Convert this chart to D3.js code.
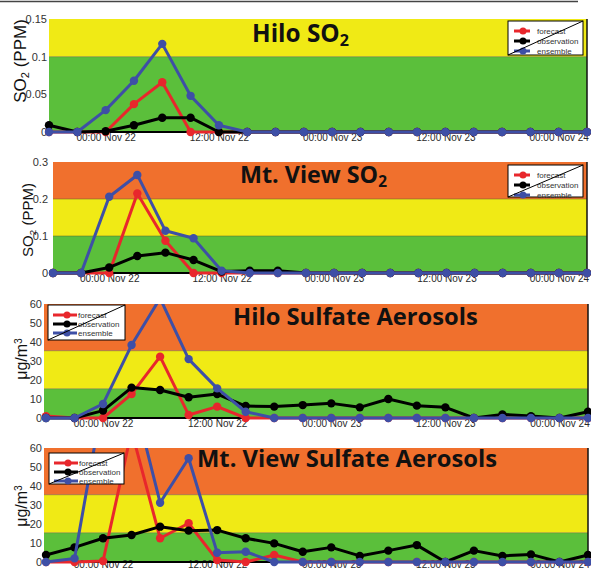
<!DOCTYPE html>
<html>
<head>
<meta charset="utf-8">
<style>
  body { margin: 0; background: #fff; }
  svg { display: block; }
</style>
</head>
<body>
<svg width="591" height="570"></svg>
<script src="https://cdn.jsdelivr.net/npm/d3@7"></script>
<script>

	// Time steps (3 hourly) and the ones that get a label.
	var times = ["18:00 Nov 21", "21:00 Nov 21", "00:00 Nov 22", "03:00 Nov 22", "06:00 Nov 22",
		"09:00 Nov 22", "12:00 Nov 22", "15:00 Nov 22", "18:00 Nov 22", "21:00 Nov 22",
		"00:00 Nov 23", "03:00 Nov 23", "06:00 Nov 23", "09:00 Nov 23", "12:00 Nov 23",
		"15:00 Nov 23", "18:00 Nov 23", "21:00 Nov 23", "00:00 Nov 24", "03:00 Nov 24"];
	var tickTimes = ["00:00 Nov 22", "12:00 Nov 22", "00:00 Nov 23", "12:00 Nov 23", "00:00 Nov 24"];

	var seriesNames = ["forecast", "observation", "ensemble"];
	var seriesColors = ["#e8272c", "#000000", "#3e4fa6"];
	var bandColors = ["#5bbf3b", "#f0ea15", "#f0702d"];

	// Hilo SO2 (ppm)
	var hiloSO2Forecast = [0, 0, 0, 0.037, 0.066, 0, 0, 0, 0, 0, 0, 0, 0, 0, 0, 0, 0, 0, 0, 0];
	var hiloSO2Obs      = [0.009, 0, 0.001, 0.009, 0.019, 0.019, 0, 0, 0, 0, 0, 0, 0, 0, 0, 0, 0, 0, 0, 0];
	var hiloSO2Ens      = [0, 0, 0.029, 0.068, 0.117, 0.048, 0.009, 0, 0, 0, 0, 0, 0, 0, 0, 0, 0, 0, 0, 0];

	// Mt. View SO2 (ppm)
	var mtvSO2Forecast = [0, 0, 0, 0.215, 0.087, 0, 0, 0, 0, 0, 0, 0, 0, 0, 0, 0, 0, 0, 0, 0];
	var mtvSO2Obs      = [0, 0, 0.015, 0.046, 0.055, 0.035, 0.004, 0.006, 0.006, 0, 0, 0, 0, 0, 0, 0, 0, 0, 0, 0];
	var mtvSO2Ens      = [0, 0, 0.206, 0.265, 0.114, 0.094, 0.006, 0, 0, 0, 0, 0, 0, 0, 0, 0, 0, 0, 0, 0];

	// Hilo sulfate aerosols (ug/m3)
	var hiloSulfForecast = [1, 0, 0, 12.6, 32.3, 1.6, 6, 0, 0, 0, 0, 0, 0, 0, 0, 0, 0, 0, 0, 0];
	var hiloSulfObs      = [0, 0, 3.9, 16, 14.7, 10.9, 12.6, 6.3, 6, 6.8, 7.7, 5.6, 10, 6.5, 5.6, 0, 1.9, 1, 0, 3.3];
	var hiloSulfEns      = [0, 0, 7.4, 38.4, 63, 31, 15.6, 3.3, 0, 0, 0, 0, 0, 0, 0, 0, 0, 0, 0, 0];

	// Mt. View sulfate aerosols (ug/m3)
	var mtvSulfForecast = [0, 0, 0.5, 69, 12.5, 20.4, 1, 0, 3.7, 0, 0, 0, 0, 0, 0, 0, 0, 0, 0, 0];
	var mtvSulfObs      = [3.7, 7.7, 12.5, 14.2, 18.6, 16.5, 16.8, 12.5, 9.8, 5.4, 7.7, 3.2, 6, 8.9, 0, 6, 3.2, 4, 0, 3.7];
	var mtvSulfEns      = [0, 1.9, 86, 91, 31.2, 54.6, 4.9, 5.4, 0, 0, 0, 0, 0, 0, 0, 0, 0, 0, 0, 0];

	// Axis ticks and air quality levels.
	var hiloSO2Ticks = [0, 0.05, 0.1, 0.15];
	var mtvSO2Ticks = [0, 0.1, 0.2, 0.3];
	var sulfTicks = [0, 10, 20, 30, 40, 50, 60];
	var hiloSO2Levels = [0, 0.1, 0.15];
	var mtvSO2Levels = [0, 0.1, 0.2, 0.3];
	var sulfLevels = [0, 15.4, 35.4, 60];

	var svg = d3.select("svg");

	// Thin rule across the top of the page.
	svg.append("line")
		.attr("x1", 0).attr("x2", 578).attr("y1", 1.5).attr("y2", 1.5)
		.style("stroke", "#444").style("stroke-width", 1.6);

	var rightLegend = {lx0: 6, lx1: 22, dot: 15, tx: 29, rows: [10, 20, 30]};
	var leftLegend = {lx0: 5, lx1: 29, dot: 19, tx: 30, rows: [10, 19, 28]};

	var panels = [
		{title: ["Hilo SO", "2"], titleX: 252, titleY: 42, titleW: 97, titleSize: 22,
			ylab: "so2", ylabX: 26, ylabY: 61, ylabSize: 17,
			data: [hiloSO2Forecast, hiloSO2Obs, hiloSO2Ens], ticks: hiloSO2Ticks, levels: hiloSO2Levels,
			left: 49, bgLeft: 49, right: 587, top: 19, bottom: 132, tickPad: 2, xPad: 1.4,
			legend: {x: 508, y: 21, w: 75, h: 34, layout: rightLegend}},
		{title: ["Mt. View SO", "2"], titleX: 240, titleY: 183, titleW: 147, titleSize: 20,
			ylab: "so2", ylabX: 33, ylabY: 220, ylabSize: 15,
			data: [mtvSO2Forecast, mtvSO2Obs, mtvSO2Ens], ticks: mtvSO2Ticks, levels: mtvSO2Levels,
			left: 53, bgLeft: 53, right: 587, top: 162, bottom: 273, tickPad: 5, xPad: 1.4,
			legend: {x: 508, y: 165, w: 75, h: 32, layout: rightLegend}},
		{title: ["Hilo Sulfate Aerosols"], titleX: 233, titleY: 325, titleW: 245, titleSize: 22,
			ylab: "ug", ylabX: 27, ylabY: 359, ylabSize: 16,
			data: [hiloSulfForecast, hiloSulfObs, hiloSulfEns], ticks: sulfTicks, levels: sulfLevels,
			left: 46, bgLeft: 44, right: 588, top: 304, bottom: 418, tickPad: 4, xPad: 1.4,
			legend: {x: 48, y: 305, w: 77, h: 35, layout: leftLegend}},
		{title: ["Mt. View Sulfate Aerosols"], titleX: 197, titleY: 467, titleW: 300, titleSize: 20,
			ylab: "ug", ylabX: 27, ylabY: 506, ylabSize: 16,
			data: [mtvSulfForecast, mtvSulfObs, mtvSulfEns], ticks: sulfTicks, levels: sulfLevels,
			left: 46, bgLeft: 44, right: 588, top: 448, bottom: 562, tickPad: 4, xPad: -1.3,
			legend: {x: 49, y: 453, w: 75, h: 31, layout: leftLegend}}
	];

	panels.forEach(drawPanel);

	function drawPanel(p, k) {
		var g = svg.append("g");
		var x = d3.scalePoint().domain(times).range([p.left, p.right]);
		var y = d3.scaleLinear().domain([0, p.ticks[p.ticks.length - 1]]).range([p.bottom, p.top]);

		// coloured air quality bands
		g.selectAll(".band")
			.data(d3.pairs(p.levels))
			.enter().append("rect")
				.attr("x", p.bgLeft)
				.attr("width", p.right - p.bgLeft)
				.attr("y", function(d) { return y(d[1]); })
				.attr("height", function(d) { return y(d[0]) - y(d[1]); })
				.style("fill", function(d, i) { return bandColors[i]; });

		g.selectAll(".edge")
			.data(p.levels.slice(1, -1))
			.enter().append("line")
				.attr("x1", p.bgLeft).attr("x2", p.right)
				.attr("y1", function(d) { return y(d); })
				.attr("y2", function(d) { return y(d); })
				.style("stroke", "#5a5a30").style("stroke-opacity", 0.6).style("stroke-width", 0.8);

		// time labels sit just under the axis line
		var xAxis = g.append("g")
			.attr("transform", "translate(0," + p.bottom + ")")
			.call(d3.axisBottom(x).tickValues(tickTimes).tickSize(0).tickPadding(p.xPad));
		xAxis.select(".domain").remove();
		xAxis.selectAll("text")
			.style("font-family", "'Liberation Sans', Arial, sans-serif")
			.style("font-size", "10px")
			.style("fill", "#2a2a2a");

		var yAxis = g.append("g")
			.attr("transform", "translate(" + p.left + ",0)")
			.call(d3.axisLeft(y).tickValues(p.ticks).tickSize(0).tickPadding(p.tickPad)
				.tickFormat(function(d) { return String(d); }));
		yAxis.select(".domain").remove();
		yAxis.selectAll("text")
			.style("font-family", "'Liberation Sans', Arial, sans-serif")
			.style("font-size", "11px")
			.style("fill", "#333");

		// axis line and right border
		g.append("line")
			.attr("x1", p.bgLeft).attr("x2", p.right + 1)
			.attr("y1", p.bottom).attr("y2", p.bottom)
			.style("stroke", "#000").style("stroke-width", 2);
		g.append("line")
			.attr("x1", p.right).attr("x2", p.right)
			.attr("y1", p.top).attr("y2", p.bottom)
			.style("stroke", "#111").style("stroke-width", 1.5);

		// title
		var title = g.append("text")
			.attr("x", p.titleX).attr("y", p.titleY)
			.style("font-family", "'Open Sans', sans-serif")
			.style("font-weight", 700)
			.style("font-size", p.titleSize + "px")
			.style("fill", "#111");
		title.append("tspan").text(p.title[0]);
		if (p.title[1]) {
			title.append("tspan").attr("dy", "0.25em").style("font-size", "0.66em").text(p.title[1]);
		}
		var w = title.node().getComputedTextLength();
		title.style("font-size", (p.titleSize * p.titleW / w) + "px");

		// y label
		var ylab = g.append("text")
			.attr("transform", "translate(" + p.ylabX + "," + p.ylabY + ") rotate(-90)")
			.attr("text-anchor", "middle")
			.style("font-family", "'Liberation Sans', Arial, sans-serif")
			.style("font-size", p.ylabSize + "px")
			.style("fill", "#111");
		if (p.ylab == "so2") {
			ylab.append("tspan").text("SO");
			ylab.append("tspan").attr("dy", "0.3em").style("font-size", "0.65em").text("2");
			ylab.append("tspan").attr("dy", "-0.2em").text(" (PPM)");
		} else {
			ylab.append("tspan").text("\u03bcg/m");
			ylab.append("tspan").attr("dy", "-0.45em").style("font-size", "0.65em").text("3");
		}

		// series, clipped at the top of the plot
		var clipId = "clip" + k;
		svg.append("clipPath").attr("id", clipId)
			.append("rect")
				.attr("x", p.bgLeft - 8).attr("y", p.top)
				.attr("width", p.right - p.bgLeft + 16).attr("height", p.bottom - p.top + 8);

		var line = d3.line()
			.x(function(d, i) { return x(times[i]); })
			.y(function(d) { return y(d); });

		var series = g.append("g").attr("clip-path", "url(#" + clipId + ")")
			.selectAll(".series")
			.data(p.data)
			.enter().append("g");

		series.append("path")
			.attr("d", line)
			.style("fill", "none")
			.style("stroke", function(d, i) { return seriesColors[i]; })
			.style("stroke-width", 3)
			.style("stroke-linejoin", "round");

		series.each(function(d, i) {
			d3.select(this).selectAll("circle")
				.data(d)
				.enter().append("circle")
					.attr("cx", function(v, j) { return x(times[j]); })
					.attr("cy", function(v) { return y(v); })
					.attr("r", 4.2)
					.style("fill", seriesColors[i]);
		});

		// legend box with the diagonal stroke through it
		var L = p.legend, lay = L.layout;
		var lg = g.append("g").attr("transform", "translate(" + L.x + "," + L.y + ")");
		lg.append("rect")
			.attr("width", L.w).attr("height", L.h)
			.style("fill", "#fff").style("stroke", "#000").style("stroke-width", 1);
		var rows = lg.selectAll(".row")
			.data(seriesNames)
			.enter().append("g")
				.attr("transform", function(d, i) { return "translate(0," + lay.rows[i] + ")"; });
		rows.append("line")
			.attr("x1", lay.lx0).attr("x2", lay.lx1)
			.style("stroke", function(d, i) { return seriesColors[i]; })
			.style("stroke-width", 3);
		rows.append("circle")
			.attr("cx", lay.dot).attr("r", 3.5)
			.style("fill", function(d, i) { return seriesColors[i]; });
		rows.append("text")
			.attr("x", lay.tx).attr("dy", "0.35em")
			.style("font-family", "'Liberation Sans', Arial, sans-serif")
			.style("font-size", "8px")
			.style("fill", "#333")
			.text(function(d) { return d; });
		lg.append("line")
			.attr("x1", 0).attr("y1", L.h).attr("x2", L.w).attr("y2", 0)
			.style("stroke", "#000").style("stroke-width", 1);
	}

</script>
</body>
</html>
